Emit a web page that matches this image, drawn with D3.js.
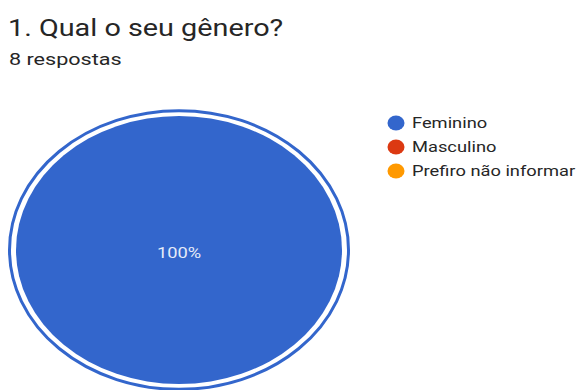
<!DOCTYPE html>
<html>
<head>
<meta charset="utf-8">
<script src="https://cdn.jsdelivr.net/npm/d3@7"></script>
<style>
  body { margin: 0; background: #fff; }
  text { font-family: Roboto, "Noto Sans", sans-serif; }
</style>
</head>
<body>
<svg id="chart" width="576" height="390"></svg>
<script>
// data
var categories = ["Feminino", "Masculino", "Prefiro não informar"]
var values = [8, 0, 0]
var colors = ["#3366cc", "#dc3912", "#ff9900"]
var title = "1. Qual o seu gênero?"
var subtitle = "8 respostas"

// the screenshot is a bit wider than tall, so text gets stretched sideways
var stretch = 1.22

var svg = d3.select("#chart")

svg.append("text")
    .attr("transform", "translate(8,36) scale(1.2,1)")
    .attr("fill", "#262626")
    .attr("font-size", "24px")
    .text(title)

svg.append("text")
    .attr("transform", "translate(9,65) scale(1.27,1)")
    .attr("fill", "#262626")
    .attr("font-size", "17px")
    .text(subtitle)

// pie (drawn as a circle then squashed into the ellipse of the picture)
var rx = 163, ry = 134
var cx = 179, cy = 250
var total = d3.sum(values)

var pie = d3.pie().sort(null).value(function(d) { return d; })
var arc = d3.arc().innerRadius(0).outerRadius(rx)

var g = svg.append("g")
    .attr("transform", "translate(" + cx + "," + cy + ") scale(1," + (ry / rx) + ")")

var slices = pie(values)

// outline ring around the full slice
g.selectAll(".ring")
    .data(slices.filter(function(d) { return d.data / total === 1; }))
    .enter()
    .append("circle")
    .attr("class", "ring")
    .attr("r", rx + 6.5)
    .attr("fill", "none")
    .attr("stroke", function(d) { return colors[d.index]; })
    .attr("stroke-width", 3)
    .attr("vector-effect", "non-scaling-stroke")

g.selectAll(".slice")
    .data(slices)
    .enter()
    .append("path")
    .attr("class", "slice")
    .attr("d", arc)
    .attr("fill", function(d) { return colors[d.index]; })

// percent labels
svg.selectAll(".pct")
    .data(slices.filter(function(d) { return d.data > 0; }))
    .enter()
    .append("text")
    .attr("class", "pct")
    .attr("transform", function(d) {
        var x = d.data === total ? cx : cx + arc.centroid(d)[0]
        var y = (d.data === total ? cy : cy + arc.centroid(d)[1] * ry / rx) + 8
        return "translate(" + x + "," + y + ") scale(" + stretch + ",1)"
    })
    .attr("text-anchor", "middle")
    .attr("fill", "#e6ecf8")
    .attr("font-size", "15px")
    .text(function(d) { return Math.round(d.data / total * 100) + "%"; })

// legend
var legend = svg.selectAll(".legend")
    .data(categories)
    .enter()
    .append("g")
    .attr("class", "legend")
    .attr("transform", function(d, i) { return "translate(396," + (123 + i * 24) + ")"; })

legend.append("ellipse")
    .attr("rx", 8.5)
    .attr("ry", 7.5)
    .attr("fill", function(d, i) { return colors[i]; })

legend.append("text")
    .attr("transform", "translate(16,5) scale(" + stretch + ",1)")
    .attr("fill", "#262626")
    .attr("font-size", "15px")
    .text(function(d) { return d; })
</script>
</body>
</html>
